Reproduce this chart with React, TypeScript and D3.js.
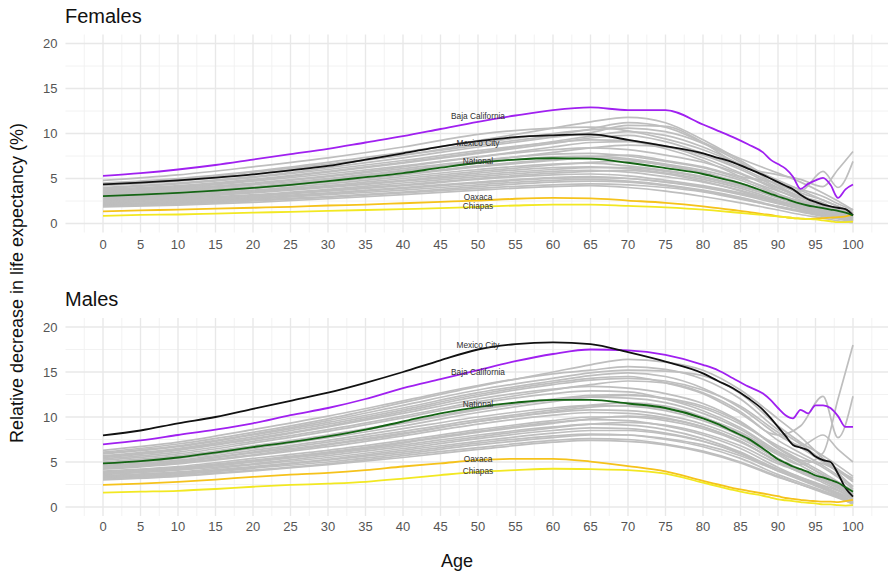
import React from "react";
import * as d3 from "d3";

// ---------- data ----------
const AGES_HI = [0,5,10,15,20,25,30,35,40,45,50,55,60,65,70,75,80,82,84,86,88,89,90,91,92,93,94,95,96,97,98,99,100];
const AGES_GRAY = [0,10,20,30,40,50,60,65,70,75,80,85,90,93,96,98,100];
const X_TICKS = d3.range(0, 101, 5);
const Y_TICKS = [0, 5, 10, 15, 20];

// Females — highlighted
const F_BAJA = [5.3,5.6,6.0,6.5,7.1,7.7,8.3,9.0,9.7,10.5,11.3,12.0,12.6,12.9,12.6,12.6,11.0,10.3,9.6,8.8,7.9,7.1,6.6,6.1,5.2,3.85,4.4,4.8,5.07,4.3,2.85,3.8,4.33];
const F_CDMX = [4.35,4.55,4.8,5.1,5.45,5.9,6.4,7.1,7.8,8.55,9.15,9.6,9.8,9.9,9.3,8.6,7.8,7.3,6.8,6.1,5.4,5.0,4.6,4.2,3.8,3.2,2.7,2.4,2.1,1.9,1.75,1.6,0.9];
const F_NAT = [3.05,3.2,3.4,3.65,3.95,4.3,4.7,5.15,5.6,6.2,6.75,7.1,7.25,7.2,6.75,6.15,5.5,5.1,4.7,4.2,3.6,3.3,3.0,2.75,2.45,2.2,2.0,1.85,1.7,1.55,1.4,1.2,0.9];
const F_OAX = [1.35,1.45,1.55,1.65,1.75,1.85,2.0,2.1,2.25,2.4,2.55,2.75,2.85,2.8,2.55,2.3,1.9,1.7,1.5,1.3,1.05,0.95,0.8,0.7,0.6,0.55,0.5,0.55,0.6,0.65,0.7,0.8,1.0];
const F_CHIS = [0.85,0.95,1.0,1.1,1.2,1.3,1.4,1.5,1.6,1.7,1.85,2.0,2.1,2.1,1.95,1.8,1.55,1.4,1.25,1.1,0.95,0.85,0.8,0.7,0.6,0.55,0.5,0.45,0.35,0.25,0.15,0.15,0.2];

// Males — highlighted
const M_BAJA = [6.95,7.4,8.0,8.6,9.3,10.2,11.0,12.0,13.2,14.2,15.2,16.2,17.0,17.5,17.4,16.9,15.8,15.2,14.3,13.4,12.6,11.9,11.0,10.2,9.85,10.8,10.4,11.3,11.3,11.0,10.1,8.9,8.9];
const M_CDMX = [7.95,8.5,9.3,10.0,10.9,11.8,12.7,13.8,15.0,16.3,17.5,18.1,18.3,18.1,17.2,16.15,14.85,14.0,13.2,12.1,10.8,9.9,8.9,7.9,6.9,6.6,6.3,5.6,5.2,5.0,3.7,2.1,1.15];
const M_NAT = [4.85,5.1,5.5,6.05,6.65,7.2,7.85,8.6,9.5,10.4,11.1,11.6,11.9,11.9,11.5,11.0,9.85,9.2,8.4,7.6,6.5,5.9,5.3,4.9,4.5,4.2,3.9,3.5,3.3,3.0,2.7,2.2,1.7];
const M_OAX = [2.45,2.6,2.8,3.05,3.35,3.6,3.8,4.1,4.5,4.85,5.2,5.35,5.35,5.05,4.55,3.95,2.9,2.5,2.1,1.8,1.5,1.35,1.2,1.0,0.9,0.8,0.7,0.65,0.6,0.6,0.55,0.65,0.8];
const M_CHIS = [1.6,1.7,1.8,2.0,2.25,2.45,2.6,2.8,3.15,3.55,3.9,4.1,4.25,4.2,4.1,3.7,2.7,2.3,1.9,1.55,1.25,1.05,0.85,0.75,0.65,0.55,0.45,0.4,0.3,0.3,0.2,0.15,0.2];

// Females — other states (gray), values at AGES_GRAY
const F_GRAY = [
  [4.8,5.4,6.3,7.3,8.5,9.9,10.6,10.7,10.3,9.4,8.2,6.5,4.6,3.4,2.6,1.9,1.2],
  [4.5,5.0,5.8,6.8,7.9,9.2,10.6,11.3,11.8,11.2,9.3,7.0,4.5,3.2,2.1,1.5,0.8],
  [4.2,4.7,5.5,6.5,7.6,8.9,10.0,10.4,10.6,10.2,8.9,6.8,4.2,3.0,2.2,1.6,1.0],
  [4.0,4.5,5.2,6.2,7.3,8.5,9.6,10.1,10.9,10.8,9.0,6.4,5.4,4.9,4.1,6.0,8.0],
  [3.9,4.4,5.1,6.0,7.0,8.1,9.0,9.3,9.2,8.6,7.6,6.0,4.0,2.9,2.0,1.5,0.9],
  [3.7,4.1,4.8,5.7,6.7,7.8,8.9,9.5,9.8,9.1,7.8,6.2,4.3,3.6,5.8,4.0,6.9],
  [3.6,4.0,4.7,5.5,6.4,7.4,8.2,8.4,8.2,7.6,6.8,5.5,3.7,2.6,1.8,1.2,0.7],
  [3.5,3.9,4.5,5.3,6.3,7.4,8.5,9.0,9.1,8.3,7.0,5.2,3.3,2.4,1.6,1.0,0.5],
  [3.4,3.8,4.4,5.2,6.1,7.0,7.7,7.8,7.5,6.9,6.2,5.0,3.6,2.8,2.0,1.6,1.2],
  [3.3,3.7,4.3,5.0,5.9,6.9,7.9,8.4,8.7,8.5,7.3,5.6,3.9,3.0,2.3,1.4,0.6],
  [3.2,3.6,4.1,4.9,5.8,6.7,7.4,7.5,7.2,6.6,5.9,4.8,3.2,2.4,1.6,1.1,0.6],
  [3.1,3.4,4.0,4.7,5.5,6.4,7.1,7.3,7.1,6.4,5.6,4.3,2.8,2.0,1.3,0.9,0.4],
  [3.0,3.3,3.9,4.6,5.4,6.3,7.0,7.4,7.6,7.0,6.3,5.2,4.5,3.8,3.0,2.2,1.5],
  [2.9,3.2,3.7,4.4,5.2,6.0,6.6,6.7,6.4,5.9,5.2,4.2,2.9,2.1,1.4,1.0,0.5],
  [2.8,3.1,3.6,4.2,5.0,5.8,6.5,6.8,6.9,6.5,5.7,4.5,3.1,2.5,1.9,1.2,0.8],
  [2.7,3.0,3.5,4.1,4.8,5.6,6.2,6.3,6.1,5.6,4.9,3.9,2.6,1.8,1.1,0.7,0.3],
  [2.6,2.9,3.4,4.0,4.7,5.4,6.0,6.2,6.2,5.8,5.1,4.1,2.9,2.2,1.5,1.1,1.6],
  [2.5,2.8,3.2,3.8,4.5,5.2,5.8,5.9,5.7,5.2,4.6,3.7,2.5,1.9,1.2,0.8,0.4],
  [2.45,2.7,3.1,3.7,4.3,5.0,5.6,5.8,5.9,5.5,4.7,3.6,2.3,1.6,1.0,0.6,0.3],
  [2.4,2.6,3.0,3.6,4.2,4.9,5.4,5.5,5.3,4.8,4.2,3.4,2.4,1.8,1.2,0.9,0.6],
  [2.3,2.5,2.9,3.4,4.0,4.6,5.1,5.2,5.0,4.6,4.0,3.2,2.2,1.6,1.1,0.7,0.4],
  [2.2,2.4,2.8,3.3,3.9,4.5,5.0,5.1,5.0,4.6,4.1,3.3,2.4,1.9,1.4,1.0,0.9],
  [2.1,2.3,2.7,3.2,3.7,4.3,4.8,4.9,4.7,4.3,3.7,2.9,1.9,1.4,0.9,0.6,0.3],
  [2.0,2.2,2.6,3.0,3.5,4.1,4.6,4.7,4.6,4.2,3.6,2.8,1.8,1.3,0.8,0.5,0.2],
  [1.95,2.15,2.5,2.9,3.4,3.9,4.3,4.4,4.3,4.0,3.5,2.7,1.9,1.4,1.0,0.7,0.5],
  [1.85,2.05,2.35,2.75,3.2,3.7,4.1,4.2,4.0,3.6,3.0,2.3,1.5,1.0,0.6,0.3,0.1],
  [4.4,4.9,5.7,6.6,7.6,8.7,9.8,10.5,11.2,10.7,9.0,7.2,5.6,4.6,3.4,2.5,1.5],
  [3.8,4.2,4.9,5.8,6.8,7.9,9.1,9.7,10.2,9.8,8.5,6.6,4.8,3.7,2.6,1.9,1.1],
];

// Males — other states (gray), values at AGES_GRAY
const M_GRAY = [
  [6.3,7.2,8.6,10.1,11.8,13.5,14.8,15.2,15.6,15.3,14.2,12.0,8.6,7.0,5.2,4.2,3.0],
  [6.1,7.0,8.3,9.8,11.6,13.4,15.0,15.8,16.4,16.1,15.2,13.0,9.8,7.8,5.4,3.8,2.2],
  [5.9,6.7,8.0,9.4,11.0,12.7,14.0,14.6,14.9,14.5,13.2,11.0,8.0,6.6,5.0,4.0,2.8],
  [5.7,6.5,7.8,9.2,10.8,12.5,13.8,14.3,14.5,13.8,12.6,10.4,8.0,9.0,12.3,7.7,12.3],
  [5.5,6.3,7.5,8.9,10.4,12.0,13.1,13.4,13.2,12.6,11.5,9.5,6.6,5.2,3.8,2.8,1.8],
  [5.35,6.1,7.3,8.6,10.1,11.7,13.0,13.6,14.0,13.8,12.7,10.6,7.4,6.0,4.6,3.5,2.3],
  [5.2,5.9,7.1,8.4,9.9,11.5,12.6,12.9,12.8,12.0,10.7,8.8,6.2,4.9,3.6,2.6,1.4],
  [5.0,5.7,6.8,8.0,9.4,10.9,12.0,12.4,12.5,12.0,11.0,9.2,6.8,5.6,4.4,3.3,2.0],
  [4.7,5.4,6.5,7.7,9.0,10.5,11.7,12.2,12.4,12.1,11.2,9.4,6.5,5.0,3.5,2.4,1.4],
  [4.6,5.2,6.3,7.4,8.7,10.0,11.0,11.3,11.2,10.7,9.6,7.9,5.4,4.2,3.1,2.2,1.2],
  [4.5,5.1,6.1,7.2,8.4,9.7,10.8,11.3,11.6,11.2,10.0,8.2,5.8,4.7,6.0,12.0,18.0],
  [4.4,5.0,6.0,7.0,8.2,9.5,10.5,10.8,10.7,10.2,9.2,7.6,5.3,4.1,3.0,2.1,1.1],
  [4.3,4.9,5.8,6.9,8.1,9.5,10.6,11.1,11.3,10.9,9.9,8.3,6.0,5.2,4.8,4.0,3.2],
  [4.2,4.8,5.7,6.7,7.9,9.2,10.2,10.5,10.4,9.9,8.9,7.3,5.0,3.8,2.7,1.9,0.9],
  [4.0,4.5,5.4,6.3,7.4,8.6,9.6,10.0,10.0,9.6,8.7,7.2,5.1,4.0,3.0,2.3,1.5],
  [3.9,4.4,5.2,6.1,7.2,8.4,9.4,9.7,9.6,9.0,8.0,6.5,4.4,3.3,2.3,1.5,0.6],
  [3.8,4.3,5.1,6.0,7.1,8.3,9.3,9.8,10.1,9.8,8.9,7.3,5.0,3.9,2.9,2.1,1.2],
  [3.7,4.2,5.0,5.9,6.9,8.0,8.9,9.2,9.1,8.6,7.6,6.1,4.1,3.1,2.1,1.4,0.5],
  [3.6,4.1,4.8,5.7,6.7,7.8,8.8,9.2,9.4,9.1,8.2,6.8,4.8,3.9,3.0,2.4,1.8],
  [3.5,3.9,4.7,5.5,6.5,7.6,8.5,8.8,8.7,8.2,7.3,5.9,4.0,3.0,2.0,1.3,0.5],
  [3.4,3.8,4.5,5.3,6.3,7.3,8.2,8.5,8.5,8.1,7.3,6.0,4.2,3.3,2.4,1.8,1.0],
  [3.3,3.7,4.4,5.2,6.1,7.1,7.9,8.1,8.0,7.5,6.7,5.4,3.6,2.7,1.8,1.2,0.4],
  [3.2,3.6,4.3,5.0,5.9,6.9,7.7,8.0,8.0,7.6,6.9,5.7,4.0,3.1,2.2,1.6,0.8],
  [3.1,3.5,4.1,4.8,5.7,6.6,7.4,7.6,7.5,7.0,6.2,5.0,3.4,2.5,1.7,1.1,0.3],
  [3.0,3.4,4.0,4.7,5.5,6.4,7.2,7.4,7.3,6.9,6.1,4.9,3.3,2.5,1.6,1.0,0.4],
  [6.0,6.8,8.1,9.6,11.3,13.0,14.3,14.9,15.2,15.1,14.6,12.6,9.0,7.2,5.7,4.6,3.4],
  [5.6,6.4,7.6,9.0,10.6,12.3,13.6,14.1,14.3,14.0,13.0,11.2,8.3,6.8,8.0,6.4,5.0],
  [4.9,5.6,6.7,7.9,9.3,10.8,11.9,12.2,12.1,11.6,10.4,8.6,6.0,4.6,3.3,2.4,1.4],
];

// Label anchors (age, value) for the highlighted series
const LABEL_NAMES = ["Baja California", "Mexico City", "National", "Oaxaca", "Chiapas"];
const F_LABEL_VALUES = [12.0, 9.0, 7.0, 2.9, 1.9];
const M_LABEL_VALUES = [15.0, 18.0, 11.5, 5.3, 4.0];
const LABEL_AGE = 50;

const COLORS = {
  baja: "#a020f0",
  cdmx: "#111111",
  nat: "#146414",
  oax: "#f5c21b",
  chis: "#f2e822",
  gray: "#bebebe",
};

// ---------- layout ----------
const W = 888;
const H = 573;
const FONT = "'Liberation Sans', Arial, Helvetica, sans-serif";
const X_LEFT = 65.5;
const X_RIGHT = 890.5;

type PanelProps = {
  title: string;
  top: number;
  bottom: number;
  titleY: number;
  tickLabelY: number;
  gray: number[][];
  hi: { key: string; values: number[]; color: string }[];
  labelValues: number[];
};

const x = d3.scaleLinear().domain([-5, 105]).range([X_LEFT, X_RIGHT]);

function Panel({ title, top, bottom, titleY, tickLabelY, gray, hi, labelValues }: PanelProps) {
  const y = d3.scaleLinear().domain([0, 20]).range([bottom, top]);
  const yTop = y(21);
  const yBot = y(-1);
  const line = d3
    .line<[number, number]>()
    .x((d) => x(d[0]))
    .y((d) => y(d[1]))
    .curve(d3.curveMonotoneX);
  const xMinor = d3.range(-2.5, 105, 5);
  const yMinor = [2.5, 7.5, 12.5, 17.5];
  return (
    <g>
      {yMinor.map((v) => (
        <line key={"ym" + v} x1={X_LEFT} x2={W} y1={y(v)} y2={y(v)} stroke="#f0f0f0" strokeWidth={0.9} />
      ))}
      {xMinor.map((v) => (
        <line key={"xm" + v} x1={x(v)} x2={x(v)} y1={yTop} y2={yBot} stroke="#f0f0f0" strokeWidth={0.9} />
      ))}
      {Y_TICKS.map((v) => (
        <line key={"yM" + v} x1={X_LEFT} x2={W} y1={y(v)} y2={y(v)} stroke="#e8e8e8" strokeWidth={1.4} />
      ))}
      {X_TICKS.map((v) => (
        <line key={"xM" + v} x1={x(v)} x2={x(v)} y1={yTop} y2={yBot} stroke="#e8e8e8" strokeWidth={1.4} />
      ))}
      {gray.map((vals, i) => (
        <path
          key={"g" + i}
          d={line(AGES_GRAY.map((a, j) => [a, vals[j]]) as [number, number][]) || ""}
          fill="none"
          stroke={COLORS.gray}
          strokeWidth={1.7}
        />
      ))}
      {hi.map((s) => (
        <path
          key={s.key}
          d={line(AGES_HI.map((a, j) => [a, s.values[j]]) as [number, number][]) || ""}
          fill="none"
          stroke={s.color}
          strokeWidth={1.8}
        />
      ))}
      {LABEL_NAMES.map((n, i) => (
        <text
          key={"l" + n}
          x={x(LABEL_AGE)}
          y={y(labelValues[i]) + 3}
          textAnchor="middle"
          fontSize={8.3}
          fill="#303030"
          fontFamily={FONT}
        >
          {n}
        </text>
      ))}
      {Y_TICKS.map((v) => (
        <text key={"yt" + v} x={57.5} y={y(v) + 4.6} textAnchor="end" fontSize={13} fill="#555" fontFamily={FONT}>
          {v}
        </text>
      ))}
      {X_TICKS.map((v) => (
        <text key={"xt" + v} x={x(v)} y={tickLabelY} textAnchor="middle" fontSize={13} fill="#555" fontFamily={FONT}>
          {v}
        </text>
      ))}
      <text x={65} y={titleY} fontSize={20} fill="#111" fontFamily={FONT}>
        {title}
      </text>
    </g>
  );
}

export default function App() {
  const fHi = [
    { key: "oax", values: F_OAX, color: COLORS.oax },
    { key: "chis", values: F_CHIS, color: COLORS.chis },
    { key: "baja", values: F_BAJA, color: COLORS.baja },
    { key: "cdmx", values: F_CDMX, color: COLORS.cdmx },
    { key: "nat", values: F_NAT, color: COLORS.nat },
  ];
  const mHi = [
    { key: "oax", values: M_OAX, color: COLORS.oax },
    { key: "chis", values: M_CHIS, color: COLORS.chis },
    { key: "baja", values: M_BAJA, color: COLORS.baja },
    { key: "cdmx", values: M_CDMX, color: COLORS.cdmx },
    { key: "nat", values: M_NAT, color: COLORS.nat },
  ];
  return (
    <svg
      width={W}
      height={H}
      viewBox={`0 0 ${W} ${H}`}
      style={{ position: "fixed", left: 0, top: 0, background: "#fff" }}
    >
      <rect x={0} y={0} width={W} height={H} fill="#fff" />
      <Panel
        title="Females"
        top={43.5}
        bottom={223.5}
        titleY={23}
        tickLabelY={249}
        gray={F_GRAY}
        hi={fHi}
        labelValues={F_LABEL_VALUES}
      />
      <Panel
        title="Males"
        top={327}
        bottom={507}
        titleY={306}
        tickLabelY={531}
        gray={M_GRAY}
        hi={mHi}
        labelValues={M_LABEL_VALUES}
      />
      <text
        transform={`translate(23, 283) rotate(-90)`}
        textAnchor="middle"
        fontSize={18}
        fill="#111"
        fontFamily={FONT}
      >
        Relative decrease in life expectancy (%)
      </text>
      <text x={457} y={567} textAnchor="middle" fontSize={18} fill="#111" fontFamily={FONT}>
        Age
      </text>
    </svg>
  );
}
